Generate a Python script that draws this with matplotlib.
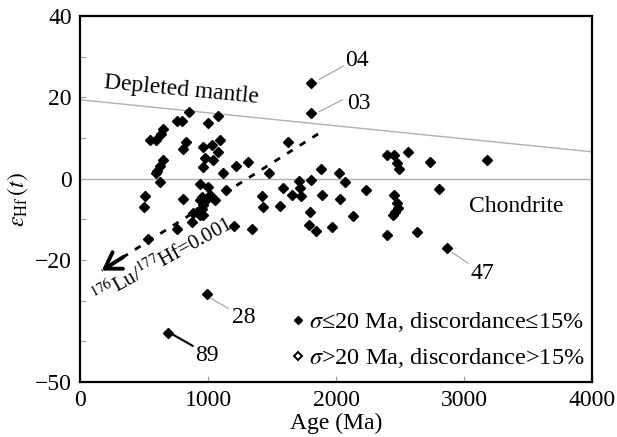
import numpy as np
import matplotlib
matplotlib.use('Agg')
import matplotlib.pyplot as plt
from matplotlib.lines import Line2D

plt.rcParams['font.family'] = ['Liberation Serif', 'DejaVu Serif']
plt.rcParams['mathtext.fontset'] = 'stix'
plt.rcParams['font.size'] = 17

# Zircon ages (Ma) and eHf(t) values
age = [1805, 1805, 852, 1081, 1003, 755, 794, 646, 630, 547,
       590, 825, 807, 964, 1035, 1094, 1081, 1042, 980, 651,
       625, 605, 590, 964, 622, 1120, 1219, 1310, 1474, 1628,
       1880, 2021, 2070, 2237, 1805, 1713, 1589, 1654, 1719, 1727,
       1890, 2031, 1423, 1140, 938, 1003, 508, 807, 951, 977,
       938, 964, 1055, 500, 885, 917, 938, 964, 875, 1203,
       1346, 1432, 1563, 1797, 2135, 1792, 1844, 1971, 2401, 2456,
       2479, 2492, 2565, 2734, 3177, 2453, 2474, 2487, 2461, 2448,
       2807, 2401, 2630, 2865, 990, 690, 534, 755, 1016, 951]
eps_hf = [23.6, 16.1, 16.3, 15.5, 13.6, 14.1, 14.1, 12.3, 11.0, 9.5,
          9.5, 9.0, 7.4, 7.7, 8.3, 9.5, 6.6, 4.6, 5.2, 4.6,
          3.2, 1.9, 1.3, 2.8, -0.7, 1.3, 3.2, 4.2, 1.3, 8.9,
          2.4, 1.3, -0.7, -2.9, -0.3, -0.6, -2.2, -3.9, -2.2, -4.2,
          -3.9, -5.1, -4.2, -2.9, -1.3, -2.0, -4.3, -4.9, -4.4, -5.6,
          -5.2, -6.5, -5.2, -7.0, -8.5, -8.1, -8.9, -8.9, -10.6, -11.6,
          -12.4, -7.0, -6.7, -8.3, -9.3, -11.3, -12.8, -12.0, 5.7, 5.7,
          3.8, 2.4, 6.5, 4.2, 4.6, -4.0, -5.9, -7.3, -8.1, -8.9,
          -2.6, -13.8, -13.0, -17.1, -28.3, -38.0, -14.9, -12.4, -4.0, -7.5]

# reference lines
dm_age = [0, 4000]
dm_eps = [19.4, 6.6]
chur_age = [0, 4000]
chur_eps = [0, 0]

# 176Lu/177Hf = 0.001 evolution trend (tail -> tip)
trend_age = [1860, 170]
trend_eps = [11.0, -22.6]

# labelled spots
labels = ['04', '03', '28', '89', '47']
label_pt_age = [1870, 1870, 1021, 729, 2906]
label_pt_eps = [24.4, 16.5, -29.4, -38.4, -18.1]
label_end_age = [2057, 2052, 1159, 880, 3031]
label_end_eps = [27.7, 19.4, -31.9, -41.1, -20.8]
label_txt_age = [2160, 2175, 1281, 990, 3140]
label_txt_eps = [29.1, 18.4, -34.1, -43.5, -23.4]

fig = plt.figure(figsize=(6.17, 4.37), dpi=100)
ax = fig.add_axes([80/617, 55/437, 512/617, 366/437])

ax.plot(dm_age, dm_eps, color='#b0b0b0', lw=1)
ax.plot(chur_age, chur_eps, color='#b0b0b0', lw=1)

# dashed trend with arrow head
ax.plot(trend_age, trend_eps, color='black', lw=2.0, dashes=(2.4, 3.0))
t_age = np.array(trend_age)
t_eps = np.array(trend_eps)
back = 0.1
ax.annotate('', xy=(t_age[1], t_eps[1]),
            xytext=(t_age[1] + back*(t_age[0]-t_age[1]), t_eps[1] + back*(t_eps[0]-t_eps[1])),
            arrowprops=dict(arrowstyle='->,head_length=0.55,head_width=0.35', color='black',
                            lw=2.8, mutation_scale=20, shrinkA=0, shrinkB=0))

ax.plot(age, eps_hf, linestyle='none', marker='D', ms=4.8, color='black')

for i in range(len(labels)):
    lw = 1.5 if labels[i] == '89' else 0.8
    lc = 'black' if labels[i] == '89' else '#a0a0a0'
    ax.plot([label_pt_age[i], label_end_age[i]], [label_pt_eps[i], label_end_eps[i]], color=lc, lw=lw)
    ax.text(label_txt_age[i], label_txt_eps[i], labels[i], ha='center', va='center')

ax.text(790, 21.8, 'Depleted mantle', ha='center', va='center', rotation=-5.5)
ax.text(3410, -6.8, 'Chondrite', ha='center', va='center')
ax.text(668, -21.6, r'$^{176}$Lu/$^{177}$Hf=0.001', ha='center', va='baseline',
        rotation=29, rotation_mode='anchor', fontsize=15)

ax.set_xlim(0, 4000)
ax.set_ylim(-50, 40)
ax.set_xticks([0, 1000, 2000, 3000, 4000])
ax.set_xticklabels(['0', '1000', '2000', '3000', '4000'])
ax.set_yticks(range(-50, 41, 10))
ax.set_yticklabels(['−50', '', '', '−20', '', '0', '', '20', '', '40'])
ax.tick_params(direction='in', length=4, width=0.8, color='#a0a0a0', pad=6)
for s in ax.spines.values():
    s.set_linewidth(1.6)

ax.set_xlabel('Age (Ma)')
ax.xaxis.set_label_coords(0.5, -0.085)
ax.set_ylabel(r'$\varepsilon_{\mathrm{Hf}}\,(t)$')
ax.yaxis.set_label_coords(-0.097, 0.5)

handles = [Line2D([], [], linestyle='none', marker='D', ms=3.8, color='black'),
           Line2D([], [], linestyle='none', marker='D', ms=3.8, markerfacecolor='white',
                  markeredgecolor='black', markeredgewidth=1.4)]
ax.legend(handles, [r'$\sigma$≤20 Ma, discordance≤15%', r'$\sigma$>20 Ma, discordance>15%'],
          loc='lower right', bbox_to_anchor=(1.018, -0.015), frameon=False, fontsize=17.5,
          handlelength=0.5, handletextpad=0.2, labelspacing=0.5, borderaxespad=0.3)

fig.savefig('out.png', dpi=100)
